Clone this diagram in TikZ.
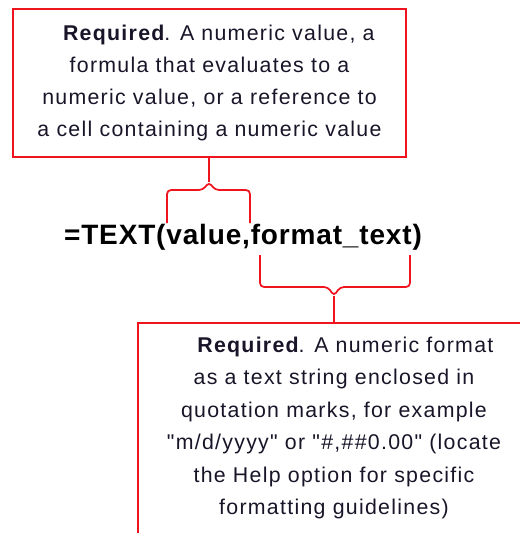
\documentclass[tikz,border=0pt]{standalone}
\usepackage{fontspec}
\usepackage{xcolor}
\usepackage{tikz}
\usetikzlibrary{positioning, calc}

\setmainfont{Liberation Sans}
\newfontfamily\notefont{Liberation Sans}[LetterSpace=6]
\newfontfamily\codefont{Liberation Sans}[LetterSpace=3]

\definecolor{calloutred}{RGB}{240,20,30}
\definecolor{inkdark}{RGB}{25,20,40}

\tikzset{
  redline/.style={draw=calloutred, line width=1.3pt},
  bracket/.style={redline, rounded corners=3pt},
  notetext/.style={align=center, text=inkdark,
                   font=\notefont\fontsize{16pt}{24pt}\selectfont}
}

\begin{document}
\begin{tikzpicture}[x=0.75pt, y=-0.75pt]
\useasboundingbox (0,0) rectangle (520,533);
\coordinate (pagecorner) at (520,533);

%---------------- Formula ----------------%
\node[text=black, font=\codefont\bfseries\fontsize{21pt}{24pt}\selectfont]
     (formula) at (243,237) {=TEXT(value,format\_text)};

%---------------- Top note ----------------%
\node[notetext, redline, minimum width=294.75pt, minimum height=111pt]
     (topbox) at (209.5,83)
     {\hspace*{14pt}\textbf{Required}. A numeric value, a\\
      formula that evaluates to a\\
      numeric value, or a reference to\\
      a cell containing a numeric value};

%---------------- Bottom note ----------------%
\node[notetext, anchor=north, minimum width=294pt, inner ysep=10pt,
      font=\notefont\fontsize{16pt}{24.4pt}\selectfont]
     (bottombox) at (334,323)
     {\hspace*{17pt}\textbf{Required}. A numeric format\\
      as a text string enclosed in\\
      quotation marks, for example\\
      "m/d/yyyy" or "\#,\#\#0.00" (locate\\
      the Help option for specific\\
      formatting guidelines)};
\draw[redline] (bottombox.north west |- pagecorner) -- (bottombox.north west)
      -- (bottombox.north east);

%---------------- Braces ----------------%
\coordinate (valtip) at (209,182);
\draw[bracket] (167,223) -- (167,190) -- (203,190) -- (valtip)
      -- (215,190) -- (250,190) -- (250,223);
\draw[redline] (valtip |- topbox.south) -- (valtip);

\coordinate (fmttip) at (334,296);
\draw[bracket] (260,255) -- (260,287) -- (328,287) -- (fmttip)
      -- (340,287) -- (410,287) -- (410,255);
\draw[redline] (fmttip) -- (fmttip |- bottombox.north);

\end{tikzpicture}
\end{document}
